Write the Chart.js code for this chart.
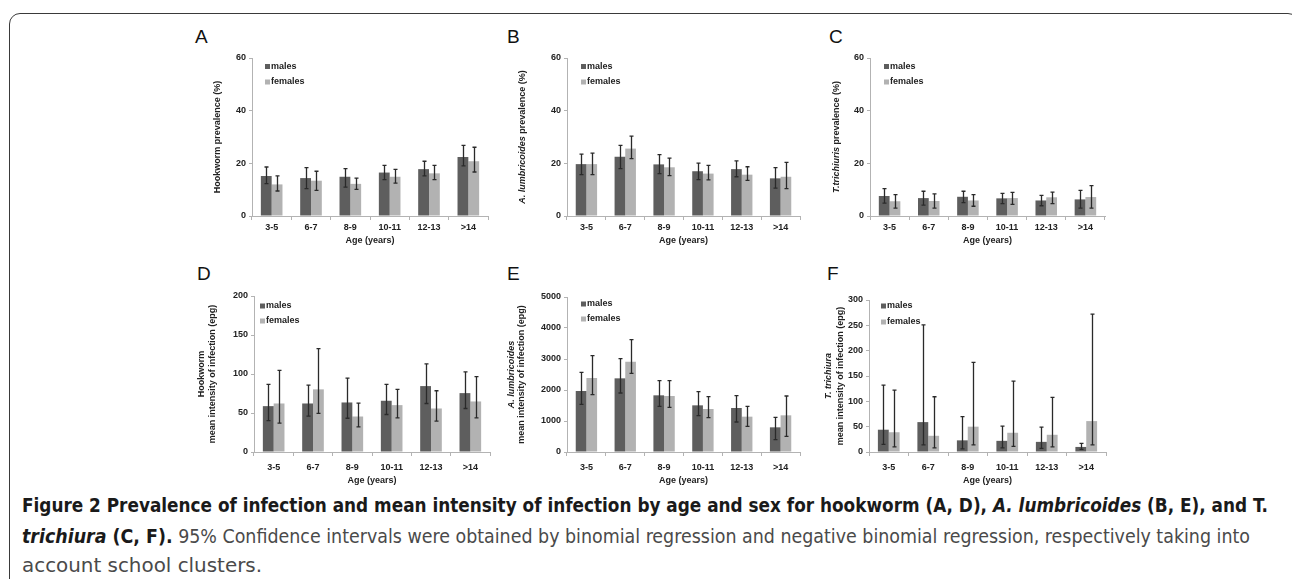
<!DOCTYPE html>
<html><head><meta charset="utf-8">
<script src="https://cdn.jsdelivr.net/npm/chart.js@4.4.0/dist/chart.umd.min.js"></script>
<style>
html,body{margin:0;padding:0;background:#fff;width:1292px;height:579px;overflow:hidden;position:relative;}
#frame{position:absolute;left:9px;top:13px;width:1290px;height:620px;border:1.6px solid #3a3a3a;border-radius:11px 11px 0 0;box-sizing:border-box;}
canvas{position:absolute;}
.letter{position:absolute;font:19px "Liberation Sans",Arial,sans-serif;color:#111;line-height:1;}
.cap{position:absolute;left:22px;white-space:nowrap;font-family:"Liberation Sans Narrow","DejaVu Sans Condensed","Liberation Sans",sans-serif;font-size:20px;color:#4a4a4a;transform-origin:0 50%;line-height:1;}
.cap b{color:#1a1a1a}
</style></head><body>
<div id="frame"></div>
<div class="letter" style="left:195px;top:27px">A</div>
<div class="letter" style="left:507px;top:27px">B</div>
<div class="letter" style="left:829px;top:27px">C</div>
<div class="letter" style="left:197px;top:264px">D</div>
<div class="letter" style="left:507px;top:264px">E</div>
<div class="letter" style="left:827px;top:264px">F</div>
<div class="cap" id="cap1" data-w="1246" style="top:495px"><b>Figure 2 Prevalence of infection and mean intensity of infection by age and sex for hookworm (A, D), <i>A. lumbricoides</i> (B, E), and T.</b></div>
<div class="cap" id="cap2" data-w="1228" style="top:526px"><b><i>trichiura</i> (C, F).</b> 95% Confidence intervals were obtained by binomial regression and negative binomial regression, respectively taking into</div>
<div class="cap" id="cap3" data-w="240" style="top:555px">account school clusters.</div>
<script>
const ageGroups = ['3-5','6-7','8-9','10-11','12-13','>14'];

// A: hookworm prevalence (%)
const hookPrevM   = [15.2, 14.4, 14.9, 16.5, 17.8, 22.4];
const hookPrevMLo = [12.3, 10.4, 11.0, 13.8, 15.2, 19.0];
const hookPrevMHi = [18.6, 18.4, 18.0, 19.2, 20.8, 26.8];
const hookPrevF   = [12.0, 13.4, 12.2, 14.9, 16.2, 20.8];
const hookPrevFLo = [9.5, 9.7, 10.1, 12.5, 13.8, 16.7];
const hookPrevFHi = [15.2, 17.0, 14.4, 17.7, 19.2, 26.1];

// B: A. lumbricoides prevalence (%)
const ascPrevM   = [19.7, 22.5, 19.6, 17.0, 17.8, 14.3];
const ascPrevMLo = [15.7, 18.0, 16.1, 13.8, 14.9, 10.6];
const ascPrevMHi = [23.5, 26.8, 23.3, 20.1, 20.9, 18.4];
const ascPrevF   = [19.7, 25.6, 18.5, 16.1, 15.7, 14.9];
const ascPrevFLo = [15.7, 21.8, 15.3, 13.7, 13.5, 10.4];
const ascPrevFHi = [23.9, 30.3, 22.0, 19.2, 18.7, 20.4];

// C: T. trichiuris prevalence (%)
const triPrevM   = [7.6, 6.8, 7.3, 6.7, 5.9, 6.3];
const triPrevMLo = [4.9, 4.1, 5.1, 4.7, 3.9, 3.0];
const triPrevMHi = [10.4, 9.4, 9.4, 8.6, 7.8, 9.7];
const triPrevF   = [5.6, 5.7, 5.9, 6.8, 7.1, 7.2];
const triPrevFLo = [3.0, 3.0, 3.7, 4.4, 4.7, 3.0];
const triPrevFHi = [8.1, 8.4, 8.1, 9.0, 9.1, 11.5];

// D: hookworm mean intensity (epg)
const hookIntM   = [58.8, 62.2, 63.5, 65.7, 84.5, 75.5];
const hookIntMLo = [40.3, 45.9, 43.3, 48.1, 62.2, 55.8];
const hookIntMHi = [86.7, 85.8, 94.8, 86.7, 112.9, 102.6];
const hookIntF   = [62.2, 80.3, 45.5, 60.1, 55.8, 64.8];
const hookIntFLo = [36.9, 49.4, 32.2, 43.8, 39.5, 43.8];
const hookIntFHi = [104.7, 132.6, 62.7, 80.3, 78.5, 96.6];

// E: A. lumbricoides mean intensity (epg)
const ascIntM   = [1968, 2376, 1828, 1505, 1419, 796];
const ascIntMLo = [1537, 1903, 1473, 1172, 968, 398];
const ascIntMHi = [2570, 3011, 2301, 1946, 1817, 1118];
const ascIntF   = [2387, 2914, 1806, 1387, 1140, 1183];
const ascIntFLo = [1850, 2538, 1441, 1108, 828, 505];
const ascIntFHi = [3107, 3624, 2301, 1785, 1473, 1806];

// F: T. trichiura mean intensity (epg)
const triIntM   = [44, 59, 23, 22, 20, 10];
const triIntMLo = [15, 14, 6, 8, 7, 5];
const triIntMHi = [132, 251, 70, 51, 49, 17];
const triIntF   = [39, 32, 50, 38, 34, 61];
const triIntFLo = [10, 8, 14, 11, 10, 14];
const triIntFHi = [122, 109, 177, 140, 108, 272];

const maleColor = '#5e5e5e', femaleColor = '#b2b2b2';
const axisColor = '#b3b3b3', textColor = '#222222';
const FAM = '"Liberation Sans", Arial, sans-serif';
const tickFont = {family: FAM, size: 9, weight: 'bold'};

const errorBarPlugin = {
  id: 'errorBars',
  afterDatasetsDraw(chart) {
    const ctx = chart.ctx, y = chart.scales.y;
    chart.data.datasets.forEach((ds, i) => {
      chart.getDatasetMeta(i).data.forEach((el, j) => {
        const x = Math.round(el.x) + 0.5;
        const yh = y.getPixelForValue(ds.errHi[j]);
        const yl = y.getPixelForValue(ds.errLo[j]);
        ctx.save();
        ctx.strokeStyle = '#2a2a2a'; ctx.lineWidth = 1.3;
        ctx.beginPath();
        ctx.moveTo(x, yh); ctx.lineTo(x, yl);
        ctx.moveTo(x - 2, yh); ctx.lineTo(x + 2, yh);
        ctx.moveTo(x - 2, yl); ctx.lineTo(x + 2, yl);
        ctx.stroke(); ctx.restore();
      });
    });
  }
};

const legendPlugin = {
  id: 'inLegend',
  afterDraw(chart) {
    const o = chart.options.plugins.inLegend;
    const ctx = chart.ctx, a = chart.chartArea;
    ctx.save();
    ctx.font = 'bold 9px ' + FAM;
    ctx.textBaseline = 'middle';
    chart.data.datasets.forEach((ds, i) => {
      const cy = a.top + o.dy[i];
      const sx = a.left + o.dx;
      ctx.fillStyle = ds.backgroundColor;
      ctx.fillRect(sx, cy - 2.5, 5, 5);
      ctx.fillStyle = textColor;
      ctx.fillText(ds.label, sx + 6, cy);
    });
    ctx.restore();
  }
};

const yTitlePlugin = {
  id: 'yTitle',
  afterDraw(chart) {
    const o = chart.options.plugins.yTitle;
    const ctx = chart.ctx, a = chart.chartArea;
    const cy = (a.top + a.bottom) / 2;
    o.lines.forEach(line => {
      ctx.save();
      ctx.translate(a.left - line.offset, cy);
      ctx.rotate(-Math.PI / 2);
      ctx.fillStyle = textColor;
      ctx.textBaseline = 'middle';
      ctx.textAlign = 'left';
      let total = 0;
      const widths = line.segs.map(s => {
        ctx.font = (s[1] ? 'italic ' : '') + 'bold 9px ' + FAM;
        const w = ctx.measureText(s[0]).width; total += w; return w;
      });
      let x = -total / 2;
      line.segs.forEach((s, k) => {
        ctx.font = (s[1] ? 'italic ' : '') + 'bold 9px ' + FAM;
        ctx.fillText(s[0], x, 0);
        x += widths[k];
      });
      ctx.restore();
    });
  }
};

function makePanel(area, cfg) {
  const W = 100, PT = 14, PR = 10;
  const cw = area.r - area.l + W + PR;
  const ch = area.b - area.t + PT + cfg.xh;
  const c = document.createElement('canvas');
  c.width = cw; c.height = ch;
  c.style.left = (area.l - W) + 'px';
  c.style.top = (area.t - PT) + 'px';
  c.style.width = cw + 'px'; c.style.height = ch + 'px';
  document.body.appendChild(c);
  new Chart(c, {
    type: 'bar',
    data: {
      labels: ageGroups,
      datasets: [
        {label: 'males', data: cfg.m, errLo: cfg.mLo, errHi: cfg.mHi, backgroundColor: maleColor, borderWidth: 0},
        {label: 'females', data: cfg.f, errLo: cfg.fLo, errHi: cfg.fHi, backgroundColor: femaleColor, borderWidth: 0}
      ]
    },
    options: {
      responsive: false, animation: false, devicePixelRatio: 1,
      layout: {padding: {top: PT, right: PR, left: 0, bottom: 0}},
      datasets: {bar: {categoryPercentage: 0.55, barPercentage: 1}},
      plugins: {
        legend: {display: false}, tooltip: {enabled: false},
        inLegend: {dx: cfg.ldx, dy: cfg.ldy},
        yTitle: {lines: cfg.title}
      },
      scales: {
        x: {
          grid: {display: true, drawOnChartArea: false, drawTicks: true, tickLength: 4, color: axisColor, offset: true},
          border: {display: true, color: axisColor},
          ticks: {font: tickFont, color: textColor, padding: cfg.xpad, maxRotation: 0, autoSkip: false},
          title: {display: true, text: 'Age (years)', font: tickFont, color: textColor, padding: 0},
          afterFit(s) { s.height = cfg.xh; }
        },
        y: {
          min: 0, max: cfg.max,
          ticks: {stepSize: cfg.step, font: tickFont, color: textColor, padding: 3, callback: v => String(v)},
          grid: {drawOnChartArea: false, drawTicks: true, tickLength: 3, color: axisColor},
          border: {display: true, color: axisColor},
          afterFit(s) { s.width = W; }
        }
      }
    },
    plugins: [errorBarPlugin, legendPlugin, yTitlePlugin]
  });
}

const rowTop = {xh: 30, xpad: 2};
const rowBot = {xh: 34, xpad: 6};

makePanel({l: 252, t: 58, r: 488, b: 216}, Object.assign({}, rowTop, {
  m: hookPrevM, mLo: hookPrevMLo, mHi: hookPrevMHi, f: hookPrevF, fLo: hookPrevFLo, fHi: hookPrevFHi,
  max: 60, step: 20, ldx: 13, ldy: [8.5, 24],
  title: [{offset: 34, segs: [['Hookworm prevalence (%)', false]]}]
}));
makePanel({l: 567, t: 58, r: 800, b: 216}, Object.assign({}, rowTop, {
  m: ascPrevM, mLo: ascPrevMLo, mHi: ascPrevMHi, f: ascPrevF, fLo: ascPrevFLo, fHi: ascPrevFHi,
  max: 60, step: 20, ldx: 14, ldy: [8.5, 24],
  title: [{offset: 44, segs: [['A. lumbricoides', true], [' prevalence (%)', false]]}]
}));
makePanel({l: 870, t: 58, r: 1105, b: 216}, Object.assign({}, rowTop, {
  m: triPrevM, mLo: triPrevMLo, mHi: triPrevMHi, f: triPrevF, fLo: triPrevFLo, fHi: triPrevFHi,
  max: 60, step: 20, ldx: 14, ldy: [8.5, 24],
  title: [{offset: 33, segs: [['T.trichiuris', true], [' prevalence (%)', false]]}]
}));
makePanel({l: 254, t: 296, r: 490, b: 452}, Object.assign({}, rowBot, {
  m: hookIntM, mLo: hookIntMLo, mHi: hookIntMHi, f: hookIntF, fLo: hookIntFLo, fHi: hookIntFHi,
  max: 200, step: 50, ldx: 6, ldy: [10, 25],
  title: [{offset: 52, segs: [['Hookworm', false]]}, {offset: 41, segs: [['mean intensity of infection (epg)', false]]}]
}));
makePanel({l: 567, t: 297, r: 800, b: 452}, Object.assign({}, rowBot, {
  m: ascIntM, mLo: ascIntMLo, mHi: ascIntMHi, f: ascIntF, fLo: ascIntFLo, fHi: ascIntFHi,
  max: 5000, step: 1000, ldx: 14, ldy: [7, 22],
  title: [{offset: 55, segs: [['A. lumbricoides', true]]}, {offset: 45, segs: [['mean intensity of infection (epg)', false]]}]
}));
makePanel({l: 869, t: 300, r: 1106, b: 452}, Object.assign({}, rowBot, {
  m: triIntM, mLo: triIntMLo, mHi: triIntMHi, f: triIntF, fLo: triIntFLo, fHi: triIntFHi,
  max: 300, step: 50, ldx: 12, ldy: [6, 22],
  title: [{offset: 40, segs: [['T. trichiura', true]]}, {offset: 28, segs: [['mean intensity of infection (epg)', false]]}]
}));

document.querySelectorAll('.cap').forEach(el => {
  const w = el.getBoundingClientRect().width;
  const target = +el.dataset.w;
  el.style.transform = 'scaleX(' + (target / w) + ')';
});
</script>
</body></html>
